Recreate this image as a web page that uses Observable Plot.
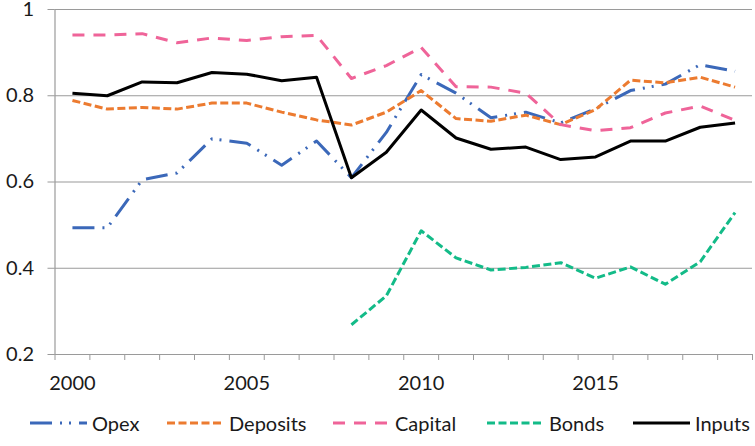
<!DOCTYPE html>
<html>
<head>
<meta charset="utf-8">
<script src="https://cdn.jsdelivr.net/npm/d3@7"></script>
<script src="https://cdn.jsdelivr.net/npm/@observablehq/plot@0.6"></script>
<style>
  html, body { margin: 0; padding: 0; background: #fff; }
  body { width: 755px; height: 446px; overflow: hidden; font-family: Lato, "Open Sans", sans-serif; }
  #chart svg { display: block; overflow: visible; }
  #legend { position: relative; width: 755px; height: 46px; }
  .item { position: absolute; top: 0; height: 46px; display: flex; align-items: center; font-size: 20px; color: #1a1a1a; }
  .item svg { margin-right: 4px; }
</style>
</head>
<body>
<div id="chart"></div>
<div id="legend"></div>
<script>
const years = [2000,2001,2002,2003,2004,2005,2006,2007,2008,2009,2010,2011,2012,2013,2014,2015,2016,2017,2018,2019];
const opex     = [0.494,0.494,0.605,0.621,0.700,0.690,0.639,0.695,0.610,0.715,0.849,0.806,0.749,0.762,0.737,0.770,0.812,0.827,0.872,0.857];
const deposits = [0.789,0.769,0.773,0.769,0.783,0.783,0.762,0.744,0.732,0.762,0.812,0.747,0.741,0.755,0.733,0.768,0.836,0.830,0.843,0.820];
const capital  = [0.941,0.941,0.944,0.923,0.934,0.928,0.937,0.940,0.840,0.870,0.912,0.821,0.820,0.806,0.733,0.719,0.726,0.760,0.776,0.743];
const bonds    = [null,null,null,null,null,null,null,null,0.269,0.336,0.487,0.424,0.396,0.402,0.413,0.377,0.403,0.363,0.415,0.529];
const inputs   = [0.806,0.800,0.832,0.830,0.854,0.850,0.835,0.843,0.610,0.669,0.767,0.702,0.676,0.681,0.652,0.658,0.695,0.695,0.727,0.737];

const seriesNames = ["Opex","Deposits","Capital","Bonds","Inputs"];
const seriesValues = [opex, deposits, capital, bonds, inputs];
const yTicks = [0.2, 0.4, 0.6, 0.8, 1];
const yTickLabels = ["0.2", "0.4", "0.6", "0.8", "1"];
const xTickLabels = [2000, 2005, 2010, 2015];

const styles = {
  Opex:     {stroke: "#3B68B9", dash: "22,8,2,7,2,8", width: 3},
  Deposits: {stroke: "#EC7B30", dash: "8,3.5", width: 3},
  Capital:  {stroke: "#EF6499", dash: "12,9", width: 3},
  Bonds:    {stroke: "#13BB88", dash: "8,3.5", width: 3},
  Inputs:   {stroke: "#000000", dash: null, width: 3}
};

const bandEdges = years.map(y => y - 0.5).concat([years[years.length - 1] + 0.5]);

const lineMarks = seriesNames.map((name, k) => {
  const data = years.map((yr, i) => ({year: yr, value: seriesValues[k][i]}));
  const s = styles[name];
  return Plot.line(data, {
    x: "year", y: "value",
    defined: d => d.value != null,
    stroke: s.stroke,
    strokeWidth: s.width,
    strokeDasharray: s.dash,
    strokeLinejoin: "round",
    strokeLinecap: "butt"
  });
});

const chart = Plot.plot({
  width: 755,
  height: 400,
  marginLeft: 54.5,
  marginRight: 3,
  marginTop: 9,
  marginBottom: 46,
  style: {fontFamily: "Lato, 'Open Sans', sans-serif", fontSize: "20px", color: "#1a1a1a", background: "#fff"},
  x: {type: "linear", domain: [bandEdges[0], bandEdges[bandEdges.length - 1]]},
  y: {domain: [0.2, 1]},
  marks: [
    Plot.gridY(yTicks, {stroke: "#9a9a9a", strokeOpacity: 1, strokeWidth: 1.2}),
    Plot.frame({anchor: "left", stroke: "#9a9a9a", strokeWidth: 1.2}),
    Plot.axisY({ticks: yTicks, tickSize: 7, tickPadding: 14, stroke: "#9a9a9a",
                tickFormat: d => yTickLabels[yTicks.indexOf(d)], label: null, fill: "#1a1a1a"}),
    Plot.axisX({ticks: bandEdges, tickSize: 6, tickFormat: () => "", label: null, stroke: "#9a9a9a"}),
    Plot.axisX({ticks: xTickLabels, tickSize: 0, tickPadding: 21, tickFormat: d => String(d), label: null, fill: "#1a1a1a"}),
    ...lineMarks
  ]
});
document.getElementById("chart").appendChild(chart);

// Legend
const legendLefts = [30, 167, 333, 487, 633];
const legend = document.getElementById("legend");
seriesNames.forEach((name, i) => {
  const s = styles[name];
  const item = document.createElement("div");
  item.className = "item";
  item.style.left = legendLefts[i] + "px";
  const sw = d3.create("svg").attr("width", 58).attr("height", 10);
  sw.append("line").attr("x1", 0).attr("x2", 57).attr("y1", 5).attr("y2", 5)
    .attr("stroke", s.stroke).attr("stroke-width", s.width)
    .attr("stroke-dasharray", s.dash);
  item.appendChild(sw.node());
  const t = document.createElement("span");
  t.textContent = name;
  item.appendChild(t);
  legend.appendChild(item);
});
</script>
</body>
</html>
